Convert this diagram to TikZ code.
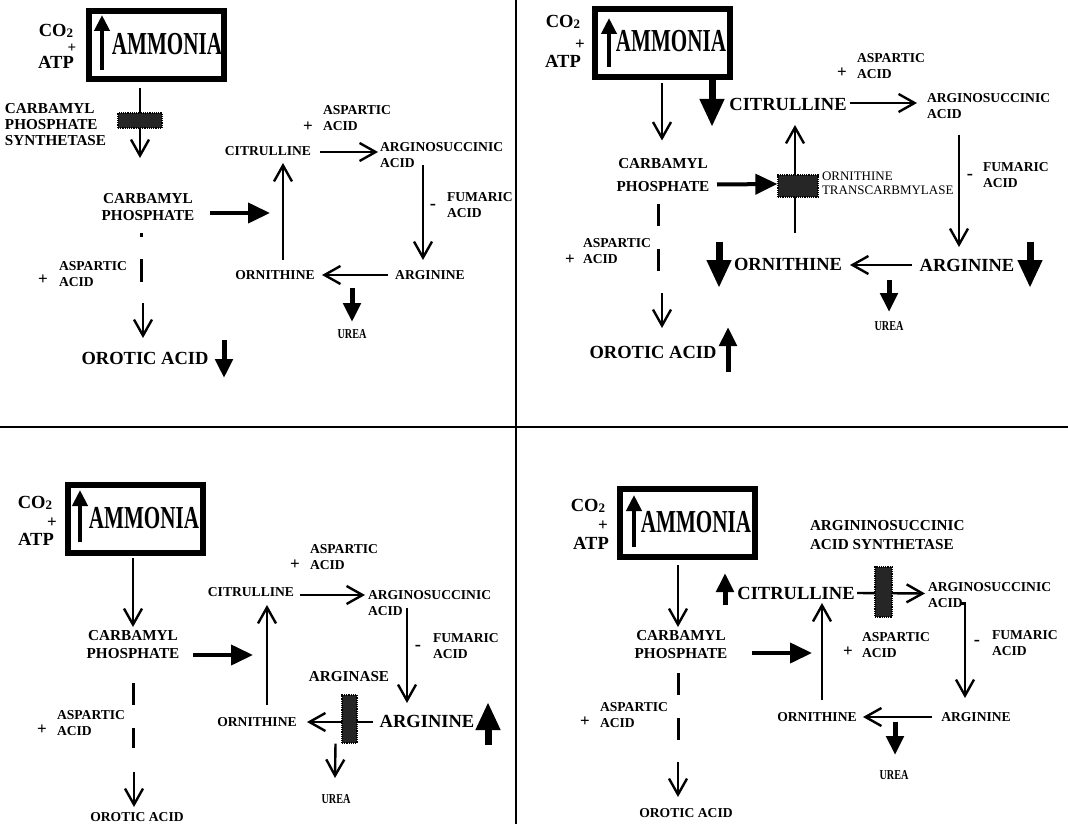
\documentclass[tikz,border=0pt]{standalone}
\usepackage{fontspec}
\setmainfont{Liberation Serif}
\usepackage{graphicx}
\usepackage{tikz}
\usetikzlibrary{arrows.meta, calc}
\tikzstyle{lbl}=[inner sep=0pt, outer sep=0pt]
\tikzstyle{flow}=[draw, line width=2.4pt, -{Straight Barb[length=16pt, width=18pt]}]
\tikzstyle{feed}=[draw, line width=4pt, -{Triangle[length=22pt, width=20pt]}]
\tikzstyle{heavy}=[draw, line width=7pt, -{Triangle[length=28pt, width=23pt]}]
\tikzstyle{lift}=[draw, line width=5pt, -{Triangle[length=19pt, width=17pt]}]
\tikzstyle{rise}=[draw, line width=4pt, -{Triangle[length=16pt, width=15pt]}]
\tikzstyle{gapline}=[draw, line width=3pt, dash pattern=on 22pt off 23pt]
\tikzstyle{enzyme}=[draw, densely dotted, line width=1.2pt, fill=black!85, inner sep=0pt]
\tikzstyle{block}=[draw, rectangle, line width=6pt, minimum width=135pt, minimum height=68pt, inner sep=0pt]
\def\fsm{\fontsize{13.6}{16}\selectfont\bfseries}
\def\fmd{\fontsize{15.2}{17}\selectfont\bfseries}
\def\fbg{\fontsize{18.5}{20}\selectfont\bfseries}
\def\fpl{\fontsize{17}{17}\selectfont\bfseries}
\def\famm{\fontsize{32}{32}\selectfont\bfseries}
\def\ammonia{\scalebox{0.66}[1]{AMMONIA}}
\def\urea{\scalebox{0.75}[1]{UREA}}
\def\cotwo{CO\raisebox{-1.5pt}{\fontsize{13}{13}\selectfont 2}}

\begin{document}
\begin{tikzpicture}[x=1pt, y=-1pt]
\useasboundingbox (0,0) rectangle (1068,824);
\draw[line width=2pt] (0,427) -- (1068,427);
\draw[line width=2pt] (516,0) -- (516,824);
%-------------------- carbamyl phosphate synthetase
\node[block] (amm1) at (156,45) {};
\node[lbl, font=\famm] (ammt1) at ($(amm1)+(11,-1)$) {\ammonia};
\draw[rise] ($(amm1)+(-54,25)$) -- ($(amm1)+(-54,-30)$);
\node[lbl, font=\fbg] (co1) at (56,31) {\cotwo};
\node[lbl, font=\fontsize{15}{15}\selectfont\bfseries] (pl1) at (72,48) {+};
\node[lbl, font=\fbg] (atp1) at (56,62) {ATP};
\node[lbl, font=\fontsize{15.2}{16}\selectfont\bfseries, align=left, anchor=west] (cpsl1) at (5,125) {CARBAMYL\\PHOSPHATE\\SYNTHETASE};
\node[lbl, font=\fmd, align=center] (cp1) at (148,207) {CARBAMYL\\PHOSPHATE};
\draw[flow] ($(amm1.south)+(-16,6)$) -- ($(cp1)+(-8,-49)$);
\node[enzyme, minimum width=44pt, minimum height=15pt] (cps1) at (140,120.5) {};
\draw[gapline, dash pattern=on 4pt off 22pt on 23pt off 60pt] ($(cp1)+(-7,26)$) -- ($(cp1)+(-7,75)$);
\node[lbl, font=\fsm, align=left, anchor=west] (asp1a) at (59,274) {ASPARTIC\\ACID};
\node[lbl, font=\fpl] (pp1a) at (43,280) {+};
\node[lbl, font=\fbg] (oa1) at (145,358) {OROTIC ACID};
\draw[flow] ($(oa1)+(-2,-55)$) -- ($(oa1)+(-2,-20)$);
\draw[lift] ($(oa1)+(79,-18)$) -- ($(oa1)+(79,20)$);
\node[lbl, font=\fsm] (cit1) at (268,151) {CITRULLINE};
\node[lbl, font=\fsm, align=left, anchor=west] (asa1) at (380,155) {ARGINOSUCCINIC\\ACID};
\node[lbl, font=\fsm, align=left, anchor=west] (asp1b) at (323,118.5) {ASPARTIC\\ACID};
\node[lbl, font=\fpl] (pp1b) at (308,127) {+};
\node[lbl, font=\fsm, align=left, anchor=west] (fum1) at (447,205) {FUMARIC\\ACID};
\node[lbl, font=\fbg] (mn1) at (433,207) {-};
\node[lbl, font=\fsm] (arg1) at (430,275) {ARGININE};
\node[lbl, font=\fsm] (orn1) at (275,275) {ORNITHINE};
\node[lbl, font=\fsm] (urea1) at (352,334) {\urea};
\draw[feed] ($(cp1)+(62,6)$) -- ($(cit1)+(2,62)$);
\draw[flow] ($(cit1)+(52,1)$) -- ($(asa1.west)+(-2,-3)$);
\draw[flow] ($(asa1.west)+(43,10)$) -- ($(arg1)+(-7,-15)$);
\draw[flow] ($(arg1)+(-42,0)$) -- ($(orn1)+(47,0)$);
\draw[flow] ($(orn1)+(8,-15)$) -- ($(cit1)+(15,12)$);
\draw[lift] ($(urea1)+(0,-46)$) -- ($(urea1)+(0,-12)$);
%-------------------- ornithine transcarbmylase
\node[block] (amm2) at (662,43) {};
\node[lbl, font=\famm] (ammt2) at ($(amm2)+(9,-2)$) {\ammonia};
\draw[rise] ($(amm2)+(-53,24)$) -- ($(amm2)+(-53,-25)$);
\node[lbl, font=\fbg] (co2) at (563,22) {\cotwo};
\node[lbl, font=\fpl] (pl2) at (580,45) {+};
\node[lbl, font=\fbg] (atp2) at (563,61) {ATP};
\node[lbl, font=\fontsize{15.2}{23}\selectfont\bfseries, align=center] (cp2) at (663,175.5) {CARBAMYL\\PHOSPHATE};
\draw[flow] ($(amm2.south)+(0,3)$) -- ($(cp2)+(-1,-35)$);
\node[lbl, font=\fbg] (cit2) at (788,104) {CITRULLINE};
\draw[heavy] ($(cit2)+(-76,-24)$) -- ($(cit2)+(-76,23)$);
\node[lbl, font=\fbg] (orn2) at (788,264) {ORNITHINE};
\draw[flow] ($(orn2)+(7,-31)$) -- ($(cit2)+(7,21)$);
\node[enzyme, minimum width=40pt, minimum height=22pt] (ots2) at (798,186) {};
\node[lbl, font=\fontsize{13}{14}\selectfont, align=left, anchor=west] (otl2) at (822,183) {ORNITHINE\\TRANSCARBMYLASE};
\draw[feed] ($(cp2)+(54,9)$) -- ($(ots2.west)+(0,-2)$);
\node[lbl, font=\fsm, align=left, anchor=west] (asa2) at (927,106) {ARGINOSUCCINIC\\ACID};
\node[lbl, font=\fsm, align=left, anchor=west] (asp2b) at (857,66.5) {ASPARTIC\\ACID};
\node[lbl, font=\fpl] (pp2b) at (842,73) {+};
\node[lbl, font=\fsm, align=left, anchor=west] (fum2) at (983,175.5) {FUMARIC\\ACID};
\node[lbl, font=\fbg] (mn2) at (970,177) {-};
\node[lbl, font=\fbg] (arg2) at (967,265) {ARGININE};
\node[lbl, font=\fsm] (urea2) at (889,326) {\urea};
\draw[flow] ($(cit2)+(62,-1)$) -- ($(asa2.west)+(-10,-3)$);
\draw[flow] ($(asa2.west)+(32,29)$) -- ($(arg2)+(-8,-18)$);
\draw[flow] ($(arg2)+(-55,0)$) -- ($(orn2)+(62,1)$);
\draw[heavy] ($(arg2)+(63,-23)$) -- ($(arg2)+(63,23)$);
\draw[heavy] ($(orn2)+(-69,-22)$) -- ($(orn2)+(-69,24)$);
\draw[lift] ($(urea2)+(0,-46)$) -- ($(urea2)+(0,-14)$);
\draw[gapline] ($(cp2)+(-5,28)$) -- ($(cp2)+(-5,95)$);
\node[lbl, font=\fsm, align=left, anchor=west] (asp2a) at (583,251.5) {ASPARTIC\\ACID};
\node[lbl, font=\fpl] (pp2a) at (570,260) {+};
\node[lbl, font=\fbg] (oa2) at (653,352) {OROTIC ACID};
\draw[flow] ($(oa2)+(9,-59)$) -- ($(oa2)+(9,-24)$);
\draw[lift] ($(oa2)+(75,20)$) -- ($(oa2)+(75,-25)$);
%-------------------- arginase
\node[block] (amm3) at (135,519) {};
\node[lbl, font=\famm] (ammt3) at ($(amm3)+(9,-1)$) {\ammonia};
\draw[rise] ($(amm3)+(-55,23)$) -- ($(amm3)+(-55,-29)$);
\node[lbl, font=\fbg] (co3) at (35,503) {\cotwo};
\node[lbl, font=\fpl] (pl3) at (52,523) {+};
\node[lbl, font=\fbg] (atp3) at (36,539) {ATP};
\node[lbl, font=\fontsize{15.2}{18}\selectfont\bfseries, align=center] (cp3) at (133,645) {CARBAMYL\\PHOSPHATE};
\draw[flow] ($(amm3.south)+(-2,2)$) -- ($(cp3)+(0,-18)$);
\draw[gapline] ($(cp3)+(0,38)$) -- ($(cp3)+(0,103)$);
\node[lbl, font=\fsm, align=left, anchor=west] (asp3a) at (57,723.5) {ASPARTIC\\ACID};
\node[lbl, font=\fpl] (pp3a) at (42,730) {+};
\node[lbl, font=\fsm] (oa3) at (137,817) {OROTIC ACID};
\draw[flow] ($(oa3)+(-3,-45)$) -- ($(oa3)+(-3,-10)$);
\node[lbl, font=\fsm] (cit3) at (251,592) {CITRULLINE};
\node[lbl, font=\fsm, align=left, anchor=west] (asa3) at (368,603) {ARGINOSUCCINIC\\ACID};
\node[lbl, font=\fsm, align=left, anchor=west] (asp3b) at (310,557) {ASPARTIC\\ACID};
\node[lbl, font=\fpl] (pp3b) at (295,565) {+};
\node[lbl, font=\fsm, align=left, anchor=west] (fum3) at (433,646.5) {FUMARIC\\ACID};
\node[lbl, font=\fbg] (mn3) at (418,648) {-};
\node[lbl, font=\fmd] (ase3) at (349,677) {ARGINASE};
\node[lbl, font=\fbg] (arg3) at (427,721) {ARGININE};
\node[lbl, font=\fsm] (orn3) at (257,722) {ORNITHINE};
\node[lbl, font=\fsm] (urea3) at (336,799) {\urea};
\draw[feed] ($(cp3)+(60,10)$) -- ($(cit3)+(2,63)$);
\draw[flow] ($(cit3)+(49,3)$) -- ($(asa3.west)+(-3,-8)$);
\draw[flow] ($(asa3.west)+(39,5)$) -- ($(arg3)+(-20,-18)$);
\draw[flow] ($(orn3)+(10,-17)$) -- ($(cit3)+(16,13)$);
\draw[flow] ($(arg3)+(-54,1)$) -- ($(orn3)+(50,0)$);
\node[enzyme, minimum width=15pt, minimum height=48pt] (blk3) at (349.5,719) {};
\draw[heavy] ($(arg3)+(61,24)$) -- ($(arg3)+(61,-19)$);
\draw[flow] ($(blk3.south)+(-14,0)$) -- ($(urea3)+(-1,-21)$);
%-------------------- argininosuccinic acid synthetase
\node[block] (amm4) at (687,523) {};
\node[lbl, font=\famm] (ammt4) at ($(amm4)+(9,-1)$) {\ammonia};
\draw[rise] ($(amm4)+(-53,24)$) -- ($(amm4)+(-53,-28)$);
\node[lbl, font=\fbg] (co4) at (588,506) {\cotwo};
\node[lbl, font=\fpl] (pl4) at (603,526) {+};
\node[lbl, font=\fbg] (atp4) at (591,543) {ATP};
\node[lbl, font=\fontsize{15.2}{18}\selectfont\bfseries, align=center] (cp4) at (681,645) {CARBAMYL\\PHOSPHATE};
\draw[flow] ($(amm4.south)+(-9,5)$) -- ($(cp4)+(-3,-18)$);
\draw[gapline] ($(cp4)+(-3,28)$) -- ($(cp4)+(-3,95)$);
\node[lbl, font=\fsm, align=left, anchor=west] (asp4a) at (600,715) {ASPARTIC\\ACID};
\node[lbl, font=\fpl] (pp4a) at (585,722) {+};
\node[lbl, font=\fsm] (oa4) at (686,813) {OROTIC ACID};
\draw[flow] ($(oa4)+(-8,-51)$) -- ($(oa4)+(-8,-16)$);
\node[lbl, font=\fbg] (cit4) at (796,593) {CITRULLINE};
\draw[lift] ($(cit4)+(-71,12)$) -- ($(cit4)+(-71,-20)$);
\node[lbl, font=\fontsize{15.2}{19}\selectfont\bfseries, align=left, anchor=west] (asn4) at (810,535.5) {ARGININOSUCCINIC\\ACID SYNTHETASE};
\node[lbl, font=\fsm, align=left, anchor=west] (asa4) at (928,595.5) {ARGINOSUCCINIC\\ACID};
\node[lbl, font=\fsm, align=left, anchor=west] (asp4b) at (862,645) {ASPARTIC\\ACID};
\node[lbl, font=\fpl] (pp4b) at (848,652) {+};
\node[lbl, font=\fsm, align=left, anchor=west] (fum4) at (992,643.5) {FUMARIC\\ACID};
\node[lbl, font=\fbg] (mn4) at (977,643) {-};
\node[lbl, font=\fsm] (orn4) at (817,717) {ORNITHINE};
\node[lbl, font=\fsm] (arg4) at (976,717) {ARGININE};
\node[lbl, font=\fsm] (urea4) at (894,775) {\urea};
\draw[feed] ($(cp4)+(71,8)$) -- ($(orn4)+(-5,-64)$);
\draw[flow] ($(cit4)+(61,0)$) -- ($(asa4.west)+(-3,-2)$);
\node[enzyme, minimum width=17pt, minimum height=50pt] (blk4) at (883.5,592) {};
\draw[flow] ($(asa4.west)+(33,8)$) -| ($(arg4)+(-11,-19)$);
\draw[flow] ($(orn4)+(5,-17)$) -- ($(cit4)+(26,10)$);
\draw[flow] ($(arg4)+(-44,0)$) -- ($(orn4)+(46,0)$);
\draw[lift] ($(urea4)+(1,-53)$) -- ($(urea4)+(1,-20)$);
\end{tikzpicture}
\end{document}
